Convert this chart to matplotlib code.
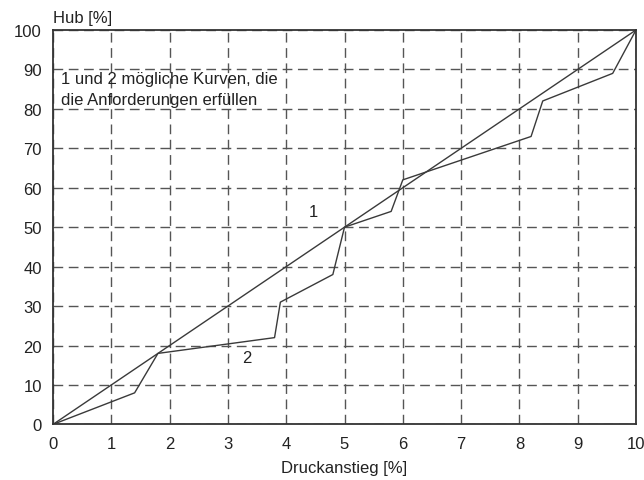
import matplotlib
matplotlib.use("Agg")
import matplotlib.pyplot as plt

plt.rcParams['font.family'] = ['Liberation Sans', 'DejaVu Sans']

# Curve 1: linear characteristic
x1 = [0, 10]
y1 = [0, 100]

# Curve 2: piecewise characteristic
x2 = [0, 1.4, 1.8, 3.8, 3.9, 4.8, 5.0, 5.8, 6.0, 8.2, 8.4, 9.6, 10]
y2 = [0, 8, 18, 22, 31, 38, 50, 54, 62, 73, 82, 89, 100]

xticks = list(range(0, 11))
yticks = list(range(0, 101, 10))

FS = 12

fig = plt.figure(figsize=(6.44, 4.81), dpi=100)
ax = fig.add_axes([0.0823, 0.1156, 0.9053, 0.82])

ax.plot(x1, y1, color='#3a3a3a', lw=1.0)
ax.plot(x2, y2, color='#3a3a3a', lw=1.0)

ax.set_xlim(0, 10)
ax.set_ylim(0, 100)
ax.set_xticks(xticks)
ax.set_yticks(yticks)
ax.tick_params(length=0, labelsize=FS, colors='#222222', pad=8)
ax.grid(True, color='#555555', lw=1.0, linestyle=(0, (7, 4)))
for s in ax.spines.values():
    s.set_color('#333333')
    s.set_linewidth(1.3)

ax.set_xlabel('Druckanstieg [%]', fontsize=FS, color='#222222', labelpad=7)
ax.text(0.0, 1.012, 'Hub [%]', transform=ax.transAxes, fontsize=FS,
        color='#222222', ha='left', va='bottom')

ax.text(0.14, 89.5, '1 und 2 mögliche Kurven, die\ndie Anforderungen erfüllen',
        fontsize=FS, color='#222222', ha='left', va='top', linespacing=1.45)
ax.text(4.47, 54, '1', fontsize=FS, color='#222222', ha='center', va='center')
ax.text(3.32, 17.0, '2', fontsize=FS, color='#222222', ha='center', va='center')

fig.savefig('out.png', dpi=100)
